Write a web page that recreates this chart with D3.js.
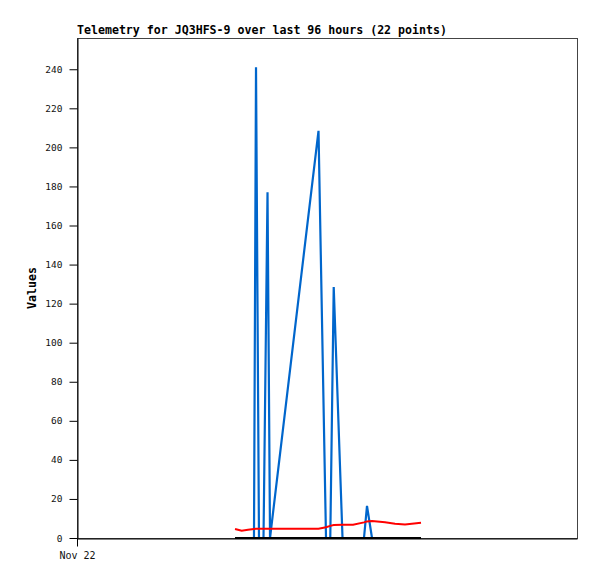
<!DOCTYPE html>
<html><head><meta charset="utf-8">
<script src="https://cdn.jsdelivr.net/npm/d3@7"></script>
<style>body{margin:0;background:#fff}</style>
</head><body>
<script>
// Hours since Nov 22 00:00 for each of the 22 telemetry points
const hoursSinceStart = [30.34,31.62,32.83,33.98,34.37,34.94,35.81,36.58,37.06,46.37,47.81,48.63,49.29,50.98,53.00,55.10,55.68,56.64,59.14,61.06,62.98,66.05];
const blueValues  = [0,0,0,0,241,0,0,177,0,208.5,0,0,128.5,0,0,0,16.4,0,0,0,0,0];
const redValues   = [4.6,3.7,4.2,4.6,4.7,4.7,4.7,4.7,4.7,4.7,5.5,6.2,6.6,6.8,6.8,8.0,8.5,8.7,8.1,7.3,6.9,7.8];
const blackValues = [0,0,0,0,0,0,0,0,0,0,0,0,0,0,0,0,0,0,0,0,0,0];
const yTicks = [0,20,40,60,80,100,120,140,160,180,200,220,240];
const titleText = "Telemetry for JQ3HFS-9 over last 96 hours (22 points)";
const yLabel = "Values";

const W = 597, H = 579;
const m = {left:77, top:38, right:20, bottom:41};
const start = new Date(2023, 10, 22, 0, 0, 0);
const end = new Date(start.getTime() + 96*3600e3);
const times = hoursSinceStart.map(h => new Date(start.getTime() + h*3600e3));

const svg = d3.select("body").append("svg").attr("width", W).attr("height", H);
const x = d3.scaleTime().domain([start, end]).range([m.left, W - m.right]);
const y = d3.scaleLinear().domain([0, 256]).range([H - m.bottom, m.top]);

// frame
svg.append("rect").attr("x", m.left + 0.5).attr("y", m.top + 0.5)
  .attr("width", W - m.right - m.left).attr("height", H - m.bottom - m.top)
  .attr("fill", "none").attr("stroke", "#444").attr("stroke-width", 1);

const mono = "'DejaVu Sans Mono', monospace";

// y axis
const ya = svg.append("g").attr("transform", `translate(${m.left + 0.5},0)`)
  .call(d3.axisLeft(y).tickValues(yTicks).tickSizeInner(8).tickSizeOuter(0).tickPadding(7).tickFormat(d3.format("d")));
ya.select(".domain").attr("stroke", "#000");
ya.selectAll("line").attr("stroke", "#000");
ya.selectAll("text").attr("font-family", mono).attr("font-size", "9.5px").attr("fill", "#111");

// x axis
const xa = svg.append("g").attr("transform", `translate(0,${H - m.bottom + 0.5})`)
  .call(d3.axisBottom(x).tickValues([start]).tickSizeInner(8).tickSizeOuter(0).tickPadding(5).tickFormat(d3.timeFormat("%b %d")));
xa.select(".domain").attr("stroke", "#000");
xa.selectAll("line").attr("stroke", "#000");
xa.selectAll("text").attr("font-family", mono).attr("font-size", "10px").attr("fill", "#111");

const line = d3.line().x((d, i) => x(times[i])).y(d => y(d));
svg.append("path").datum(blueValues).attr("d", line).attr("fill", "none")
  .attr("stroke", "#0066cc").attr("stroke-width", 2.2);
svg.append("path").datum(redValues).attr("d", line).attr("fill", "none")
  .attr("stroke", "#ff0000").attr("stroke-width", 2);
svg.append("path").datum(blackValues).attr("d", line).attr("fill", "none")
  .attr("stroke", "#000").attr("stroke-width", 2);

svg.append("text").attr("x", m.left).attr("y", 34).text(titleText)
  .attr("font-family", mono).attr("font-weight", "bold").attr("font-size", "11.6px");
svg.append("text").attr("transform", `translate(36,${(m.top + H - m.bottom)/2}) rotate(-90)`)
  .attr("text-anchor", "middle").text(yLabel)
  .attr("font-family", mono).attr("font-weight", "bold").attr("font-size", "11.6px");
</script>
</body></html>
